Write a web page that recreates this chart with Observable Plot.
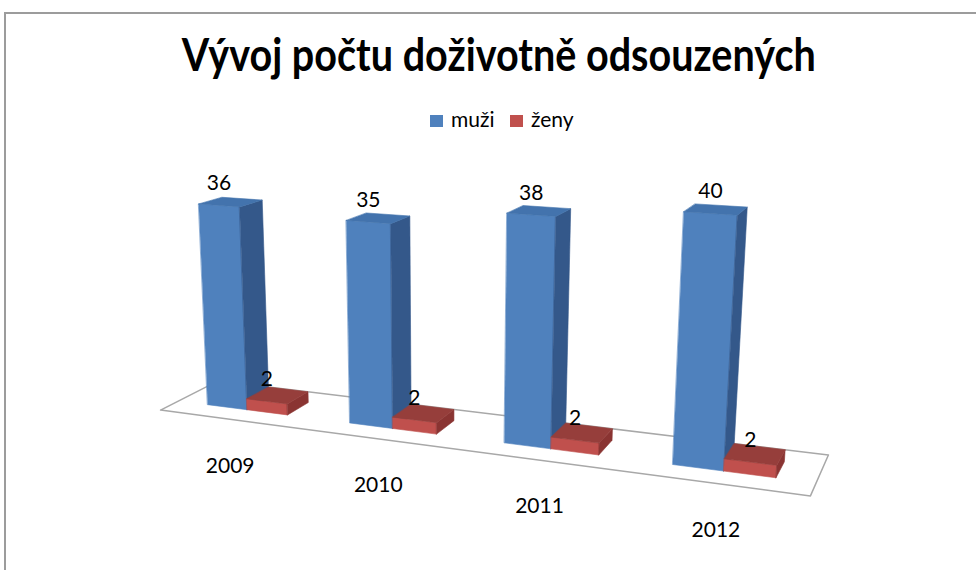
<!DOCTYPE html>
<html>
<head>
<meta charset="utf-8">
<script src="https://cdn.jsdelivr.net/npm/d3@7"></script>
<script src="https://cdn.jsdelivr.net/npm/@observablehq/plot@0.6"></script>
<style>
  html, body { margin: 0; padding: 0; background: #fff; width: 976px; height: 570px; overflow: hidden; }
  #frame { position: absolute; left: 4px; top: 12px; width: 1100px; height: 700px;
           border-left: 2px solid #9c9c9c; border-top: 2px solid #9c9c9c; box-sizing: border-box; }
  #title { position: absolute; left: 0; top: 26px; width: 998px; text-align: center;
           font-family: Lato, sans-serif; font-weight: 700; font-size: 46px; line-height: 1.2;
           white-space: nowrap; color: #000; }
  #title span { display: inline-block; transform-origin: 50% 50%; }
  #legend { position: absolute; left: 0; top: 107px; width: 1004px; text-align: center;
            font-family: Lato, sans-serif; font-size: 21px; line-height: 24px; color: #000; white-space: nowrap; }
  #legend .item { display: inline-block; margin-right: 16px; }
  #legend .item:last-child { margin-right: 0; }
  #legend .sw { display: inline-block; width: 12.5px; height: 12.5px; margin-right: 8px; vertical-align: baseline; }
  #chart { position: absolute; left: 0; top: 140px; }
</style>
</head>
<body>
<div id="frame"></div>
<div id="title"><span id="tt"></span></div>
<div id="legend"></div>
<div id="chart"></div>
<script>
// ---- data ----
const titleText = "Vývoj počtu doživotně odsouzených";
const years = ["2009", "2010", "2011", "2012"];
const seriesNames = ["muži", "ženy"];
const muzi = [36, 35, 38, 40];
const zeny = [2, 2, 2, 2];

// ---- styles ----
const seriesColors = ["#4F81BD", "#C0504D"];
const sideColors = ["#34588A", "#8A3432"];
const topColors = ["#4373AD", "#963E3B"];

// ---- 3D layout (Excel-like clustered 3-D column) ----
const gapStart = 0.75 / 3.5;     // gap width 150 %
const barWidth = 1 / 3.5;
const floorDepth = 0.70;
const barDepth = 0.28;
const heightPerUnit = 0.0357;

// camera: yaw 22°, elevation 15°
const deg = Math.PI / 180;
const cam = { beta: 22 * deg, alpha: 15 * deg, f: 1436, px: 444, py: 206, ox: 0.204, oy: -0.509, dist: 8.6,
              cx: years.length / 2, cz: floorDepth / 2 };
const cb = Math.cos(cam.beta), sb = Math.sin(cam.beta), ca = Math.cos(cam.alpha), sa = Math.sin(cam.alpha);
const projection = d3.geoTransform({
  point(X, Z, H) {
    const qx = X - cam.cx, qz = Z - cam.cz, qy = H || 0;
    const x1 = qx * cb + qz * sb;
    const z1 = -qx * sb + qz * cb;
    const v = qy * ca + z1 * sa;
    const w = z1 * ca - qy * sa;
    const depth = cam.dist + w;
    this.stream.point(cam.px + cam.f * (x1 + cam.ox) / depth, cam.py - cam.f * (v + cam.oy) / depth);
  }
});

function poly(key, pts) {
  return { type: "Feature", properties: { key }, geometry: { type: "Polygon", coordinates: [[...pts, pts[0]]] } };
}
function pt(x, z, h) { return { type: "Point", coordinates: [x, z, h] }; }

const floor = poly("floor", [[0, 0, 0], [years.length, 0, 0], [years.length, floorDepth, 0], [0, floorDepth, 0]]);

const seriesValues = [muzi, zeny];
const faceKeys = [], faceColors = [];
seriesNames.forEach((n, s) => {
  faceKeys.push(n + " front", n + " side", n + " top");
  faceColors.push(seriesColors[s], sideColors[s], topColors[s]);
});

const faces = [];
const valueLabels = [];
const yearLabels = [];
const z0 = (floorDepth - barDepth) / 2, z1 = z0 + barDepth;
years.forEach((yr, i) => {
  seriesValues.forEach((vals, s) => {
    const x0 = i + gapStart + s * barWidth, x1 = x0 + barWidth;
    const h = vals[i] * heightPerUnit;
    const n = seriesNames[s];
    faces.push(poly(n + " front", [[x0, z0, 0], [x1, z0, 0], [x1, z0, h], [x0, z0, h]]));
    faces.push(poly(n + " side", [[x1, z0, 0], [x1, z1, 0], [x1, z1, h], [x1, z0, h]]));
    faces.push(poly(n + " top", [[x0, z0, h], [x1, z0, h], [x1, z1, h], [x0, z1, h]]));
    valueLabels.push({ text: String(vals[i]), geom: pt(x0 + barWidth / 2, z0, h) });
  });
  yearLabels.push({ text: yr, geom: pt(i + 0.5, 0, 0) });
});

const chart = Plot.plot({
  width: 976,
  height: 430,
  margin: 0,
  projection,
  color: { type: "ordinal", domain: faceKeys, range: faceColors },
  marks: [
    Plot.geo([floor], { fill: "white", stroke: "#a8a8a8", strokeWidth: 1.5 }),
    Plot.geo(faces, { fill: d => d.properties.key, stroke: d => d.properties.key, strokeWidth: 0.6 }),
    Plot.text(valueLabels, Plot.centroid({ geometry: d => d.geom, text: d => d.text, dy: -22,
      fontSize: 21, fontFamily: "Lato, sans-serif", fill: "#000" })),
    Plot.text(yearLabels, Plot.centroid({ geometry: d => d.geom, text: d => d.text, dy: 46.5,
      fontSize: 21, fontFamily: "Lato, sans-serif", fill: "#000" }))
  ]
});
document.getElementById("chart").appendChild(chart);

// title
const tt = document.getElementById("tt");
tt.textContent = titleText;
const tw = tt.getBoundingClientRect().width;
tt.style.transform = `scaleX(${634 / tw})`;

// legend
const lg = document.getElementById("legend");
seriesNames.forEach((n, s) => {
  const item = document.createElement("span");
  item.className = "item";
  const sw = document.createElement("span");
  sw.className = "sw";
  sw.style.background = seriesColors[s];
  item.appendChild(sw);
  item.appendChild(document.createTextNode(n));
  lg.appendChild(item);
});
</script>
</body>
</html>
